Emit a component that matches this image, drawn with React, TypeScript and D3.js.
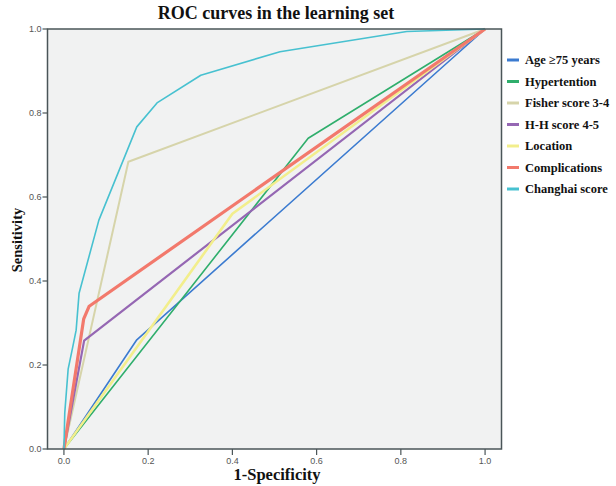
import React from "react";
import * as d3 from "d3";

const W = 616;
const H = 486;

const seriesNames = [
  "Age ≥75 years",
  "Hypertention",
  "Fisher score 3-4",
  "H-H score 4-5",
  "Location",
  "Complications",
  "Changhai score",
];

const ageX = [0, 0.173, 1];
const ageY = [0, 0.26, 1];
const hyperX = [0, 0.58, 1];
const hyperY = [0, 0.74, 1];
const fisherX = [0, 0.153, 1];
const fisherY = [0, 0.684, 1];
const hhX = [0, 0.048, 1];
const hhY = [0, 0.258, 1];
const locX = [0, 0.4, 1];
const locY = [0, 0.56, 1];
const compX = [0, 0.047, 0.06, 1];
const compY = [0, 0.31, 0.34, 1];
const chX = [0, 0.002, 0.01, 0.021, 0.029, 0.036, 0.083, 0.173, 0.221, 0.325, 0.513, 0.814, 1];
const chY = [0, 0.086, 0.19, 0.243, 0.283, 0.371, 0.545, 0.767, 0.824, 0.89, 0.946, 0.994, 1];

const tickValues = [0, 0.2, 0.4, 0.6, 0.8, 1.0];

const seriesX = [ageX, hyperX, fisherX, hhX, locX, compX, chX];
const seriesY = [ageY, hyperY, fisherY, hhY, locY, compY, chY];
const colors = ["#3b7bd0", "#2fae6c", "#d6d4aa", "#9567b3", "#f2ee8c", "#f2796c", "#47c1d0"];
const widths = [1.6, 1.6, 2, 2.2, 2.6, 3.2, 1.6];

export default function App() {
  const left = 47.5, right = 501.5, top = 29, bottom = 449;
  const x = d3.scaleLinear().domain([-0.039, 1.039]).range([left, right]);
  const y = d3.scaleLinear().domain([0, 1]).range([bottom, top]);
  const line = d3.line<[number, number]>().x((d) => x(d[0])).y((d) => y(d[1]));
  const tickFont = "'Liberation Sans', Arial, sans-serif";
  const serif = "'Liberation Serif', 'Times New Roman', serif";
  const axisColor = "#4a5558";

  return (
    <svg width={W} height={H} style={{ position: "absolute", left: 0, top: 0, background: "#fff" }}>
      <rect x={left} y={top} width={right - left} height={bottom - top} fill="#f1f2f2" />
      {seriesNames.map((name, i) => {
        const pts: [number, number][] = seriesX[i].map((v, j) => [v, seriesY[i][j]]);
        return (
          <path key={name} d={line(pts) || ""} fill="none" stroke={colors[i]} strokeWidth={widths[i]} strokeLinejoin="round" />
        );
      })}
      <rect x={left} y={top} width={right - left} height={bottom - top} fill="none" stroke={axisColor} strokeWidth={1.5} />
      {tickValues.map((t) => (
        <g key={"x" + t}>
          <line x1={x(t)} x2={x(t)} y1={bottom} y2={bottom + 6} stroke={axisColor} strokeWidth={1.2} />
          <text x={x(t)} y={bottom + 15} textAnchor="middle" fontFamily={tickFont} fontSize={9} fill="#555">
            {t.toFixed(1)}
          </text>
        </g>
      ))}
      {tickValues.map((t) => (
        <g key={"y" + t}>
          <line x1={left - 5} x2={left} y1={y(t)} y2={y(t)} stroke={axisColor} strokeWidth={1.2} />
          <text x={left - 6} y={y(t) + 3} textAnchor="end" fontFamily={tickFont} fontSize={9} fill="#555">
            {t.toFixed(1)}
          </text>
        </g>
      ))}
      <text x={276} y={19} textAnchor="middle" fontFamily={serif} fontWeight="bold" fontSize={18} fill="#111">
        ROC curves in the learning set
      </text>
      <text x={277} y={480} textAnchor="middle" fontFamily={serif} fontWeight="bold" fontSize={16.5} fill="#111">
        1-Specificity
      </text>
      <text
        transform={`translate(22,240) rotate(-90)`}
        textAnchor="middle"
        fontFamily={serif}
        fontWeight="bold"
        fontSize={14.5}
        fill="#111"
      >
        Sensitivity
      </text>
      {seriesNames.map((name, i) => {
        const ly = 60 + i * 21.5;
        return (
          <g key={"lg" + name}>
            <line x1={507} x2={519} y1={ly} y2={ly} stroke={colors[i]} strokeWidth={3} />
            <text x={525} y={ly + 4} fontFamily={serif} fontWeight="bold" fontSize={12.5} fill="#111">
              {name}
            </text>
          </g>
        );
      })}
    </svg>
  );
}
